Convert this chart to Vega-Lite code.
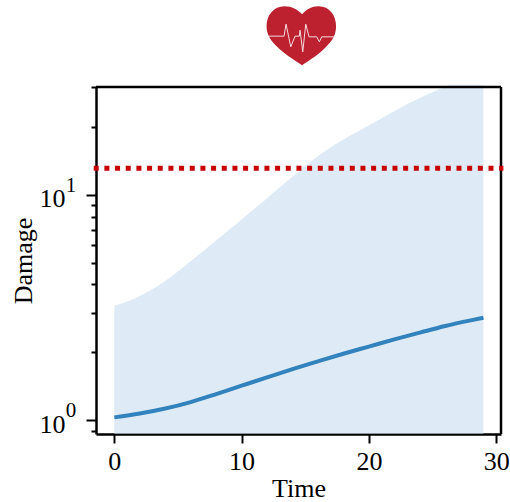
{
"$schema":"https://vega.github.io/schema/vega-lite/v6.json",
"width":405,"height":347,
"autosize":{"type":"none"},
"padding":{"left":96,"top":87,"right":9,"bottom":68},
"background":"white",
"view":{"stroke":null},
"config":{"font":"Liberation Serif"},
"datasets":{
"series":[
{"time":0,"damage":1.031},{"time":2,"damage":1.072},{"time":4,"damage":1.128},{"time":6,"damage":1.205},
{"time":8,"damage":1.307},{"time":10,"damage":1.424},{"time":12,"damage":1.551},{"time":14,"damage":1.687},
{"time":16,"damage":1.826},{"time":18,"damage":1.973},{"time":20,"damage":2.123},{"time":22,"damage":2.285},
{"time":24,"damage":2.448},{"time":26,"damage":2.619},{"time":28,"damage":2.773},{"time":29,"damage":2.847}
],
"band":[
{"time":0,"upper":3.217,"lower":0.875},{"time":1.23,"upper":3.396,"lower":0.875},{"time":2.8,"upper":3.76,"lower":0.875},
{"time":4.38,"upper":4.30,"lower":0.875},{"time":5.95,"upper":5.04,"lower":0.875},{"time":7.52,"upper":5.96,"lower":0.875},
{"time":9.09,"upper":7.05,"lower":0.875},{"time":9.87,"upper":7.67,"lower":0.875},{"time":11.84,"upper":9.47,"lower":0.875},
{"time":13.33,"upper":11.17,"lower":0.875},{"time":14.82,"upper":13.15,"lower":0.875},{"time":16.16,"upper":15.05,"lower":0.875},
{"time":17.73,"upper":17.2,"lower":0.875},{"time":19.3,"upper":19.3,"lower":0.875},{"time":20.87,"upper":21.6,"lower":0.875},
{"time":22.44,"upper":24.19,"lower":0.875},{"time":24,"upper":26.79,"lower":0.875},{"time":25.59,"upper":29.36,"lower":0.875},
{"time":26.4,"upper":30.58,"lower":0.875},{"time":29,"upper":30.58,"lower":0.875}
],
"threshold":[{"time":-1.62,"damage":13.1},{"time":30.57,"damage":13.1}],
"exponents":[{"time":-1.44,"damage":10,"label":"1"},{"time":-1.44,"damage":1,"label":"0"}],
"icon":[{"time":14.71,"damage":50.4}]
},
"encoding":{
"x":{"field":"time","type":"quantitative","title":"Time",
"scale":{"domain":[-1.44,30.38],"nice":false,"zero":false},
"axis":{"values":[0,10,20,30],"grid":false,"domainColor":"black","domainWidth":2.5,"tickColor":"black","tickWidth":2,"tickSize":9,"labelFontSize":26,"labelColor":"black","labelPadding":5,"labelFont":"Liberation Serif","titleFont":"Liberation Serif","titleFontSize":26,"titleFontWeight":"normal","titleColor":"black","titlePadding":1}},
"y":{"field":"damage","type":"quantitative","title":"Damage",
"scale":{"type":"log","domain":[0.87,30],"nice":false},
"axis":{"values":[0.9,1,2,3,4,5,6,7,8,9,10,20,30],"grid":false,"domainColor":"black","domainWidth":2.5,"tickColor":"black","tickWidth":2,
"tickSize":{"condition":{"test":"datum.value==1||datum.value==10","value":10},"value":5},
"labelExpr":"datum.value==1||datum.value==10?'10':''","labelFontSize":26,"labelColor":"black","labelPadding":21,"labelBaseline":"alphabetic","labelOffset":12,"labelFont":"Liberation Serif","labelOverlap":false,"titleFont":"Liberation Serif","titleFontSize":26,"titleFontWeight":"normal","titleColor":"black","titlePadding":3}}
},
"layer":[
{"data":{"name":"band"},"mark":{"type":"area","color":"#deebf7","interpolate":"monotone","clip":false},
"encoding":{"y":{"field":"upper","type":"quantitative"},"y2":{"field":"lower"}}},
{"data":{"name":"series"},"mark":{"type":"line","color":"#3182bd","strokeWidth":4,"interpolate":"monotone","clip":false}},
{"data":{"values":[{"time":-1.44,"damage":30},{"time":30.38,"damage":30}]},"mark":{"type":"line","color":"black","strokeWidth":2.5,"clip":false}},
{"data":{"values":[{"time":30.38,"damage":0.87},{"time":30.38,"damage":30}]},"mark":{"type":"line","color":"black","strokeWidth":2.5,"clip":false}},
{"data":{"name":"threshold"},"mark":{"type":"line","color":"#c80000","strokeWidth":5,"strokeDash":[5,5.67],"clip":false}},
{"data":{"name":"exponents"},"mark":{"type":"text","font":"Liberation Serif","fontSize":21,"color":"black","align":"center","baseline":"alphabetic","dx":-25,"dy":-3,"clip":false},
"encoding":{"text":{"field":"label"}}},
{"data":{"name":"icon"},"mark":{"type":"point","filled":true,"fill":"#bd2130","stroke":null,"opacity":1,"size":4,"clip":false,
"shape":"M0.5,-22 C-4,-27 -10,-30 -17,-30 C-28,-30 -35,-21 -35,-10 C-35,-3 -32,3 -26,9 C-17,18 -7,24 0.5,29 C8,24 18,18 26,9 C32,3 34.5,-3 34.5,-10 C34.5,-21 28,-30 17,-30 C10,-30 5,-27 0.5,-22Z"}},
{"data":{"name":"icon"},"mark":{"type":"point","filled":false,"stroke":"#f6dde0","strokeWidth":1,"opacity":1,"size":4,"clip":false,
"shape":"M-33.2,0 L-17.5,0 L-15.5,-12 L-10.8,10.7 L-6.5,0 L-2.2,0 L-1.5,-6 L1.2,15.7 L4.2,-12 L7.5,0.7 L15.2,0.7 L17.8,5.7 L20.2,0.7 L33.5,0.7"}}
]
}
